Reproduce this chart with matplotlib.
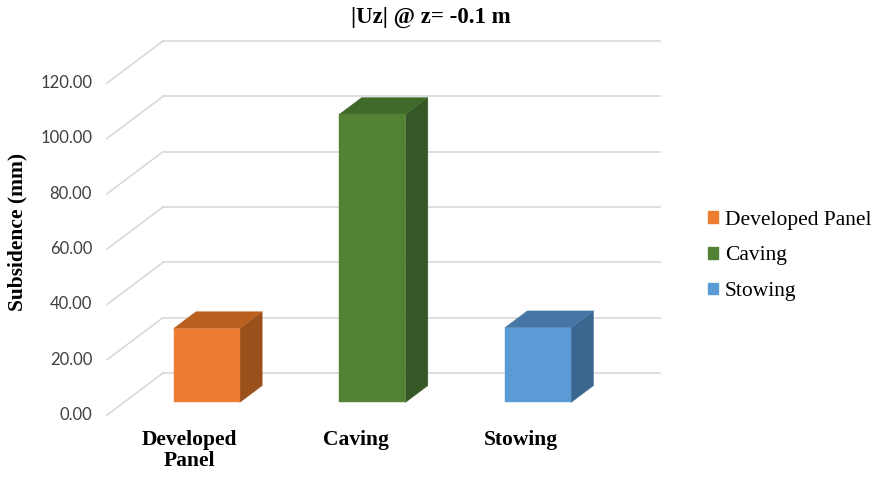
import matplotlib
matplotlib.use("Agg")
import matplotlib.pyplot as plt
from matplotlib.patches import Polygon, Patch

# данные
categories = ["Developed\nPanel", "Caving", "Stowing"]
legend_names = ["Developed Panel", "Caving", "Stowing"]
subsidence = [26.7, 104.1, 27.0]
y_ticks = [0, 20, 40, 60, 80, 100, 120]

# цвета граней: передняя, верхняя, боковая
front_colors = ["#ED7D31", "#548235", "#5B9BD5"]
top_colors = ["#B9601F", "#3F6A2A", "#4676A5"]
side_colors = ["#99501B", "#355826", "#3B6690"]

# псевдо-3D: сдвиг по глубине (в единицах данных)
DX = 0.338   # по оси x на единицу глубины
DY = 15.2    # по оси y на единицу глубины
BAR_W = 0.4
D_FRONT = 0.7
D_BACK = 0.3


def proj(x, y, d):
    """Косоугольная проекция точки (x, y, глубина) на плоскость графика"""
    return (x - DX * d, y - DY * d)


fig = plt.figure(figsize=(8.82, 4.79), dpi=100)
ax = fig.add_axes([163 / 882, 106 / 479, 497 / 882, 332 / 479])
ax.set_xlim(-0.5, 2.5)
ax.set_ylim(0, 120)
ax.axis("off")

grid_color = "#d9d9d9"
serif = "Liberation Serif"

# сетка на задней и боковой стенке
for t in y_ticks:
    ax.plot([-0.5, 2.5], [t, t], color=grid_color, lw=1.2, clip_on=False, zorder=1)
    p0 = proj(-0.5, t, 0)
    p1 = proj(-0.5, t, 1)
    ax.plot([p0[0], p1[0]], [p0[1], p1[1]], color=grid_color, lw=1.2,
            clip_on=False, zorder=1)
    lx, ly = proj(-0.5, t, 1)
    ax.text(lx - 0.09, ly, f"{t:.2f}", ha="right", va="center", fontsize=12,
            family="Lato", color="#404040", clip_on=False)

# столбцы
for i, v in enumerate(subsidence):
    xl, xr = i - BAR_W / 2, i + BAR_W / 2
    side = [proj(xr, 0, D_FRONT), proj(xr, 0, D_BACK), proj(xr, v, D_BACK), proj(xr, v, D_FRONT)]
    top = [proj(xl, v, D_FRONT), proj(xr, v, D_FRONT), proj(xr, v, D_BACK), proj(xl, v, D_BACK)]
    front = [proj(xl, 0, D_FRONT), proj(xr, 0, D_FRONT), proj(xr, v, D_FRONT), proj(xl, v, D_FRONT)]
    for pts, c in [(side, side_colors[i]), (top, top_colors[i]), (front, front_colors[i])]:
        ax.add_patch(Polygon(pts, closed=True, facecolor=c, edgecolor=c, lw=0.3,
                             clip_on=False, zorder=3))

    cx, cy = proj(i, 0, 1)
    ax.text(cx, cy - 5.5, categories[i], ha="center", va="top", fontsize=15.5,
            family=serif, fontweight="bold", linespacing=1.05, clip_on=False)

fig.text(431 / 882, 1 - 17 / 479, "|Uz| @ z= -0.1 m", ha="center", va="center",
         fontsize=16.5, family=serif, fontweight="bold")
fig.text(17 / 882, 1 - 232 / 479, "Subsidence (mm)", ha="center", va="center",
         rotation=90, fontsize=15.5, family=serif, fontweight="bold")

handles = [Patch(facecolor=c, edgecolor=c) for c in front_colors]
fig.legend(handles, legend_names, loc="center left", bbox_to_anchor=(708 / 882, 1 - 256 / 479),
           frameon=False, borderpad=0, borderaxespad=0, handlelength=0.46, handleheight=0.46,
           handletextpad=0.33, labelspacing=0.78, prop={"family": serif, "size": 15.5})

fig.savefig("out.png", dpi=100)
